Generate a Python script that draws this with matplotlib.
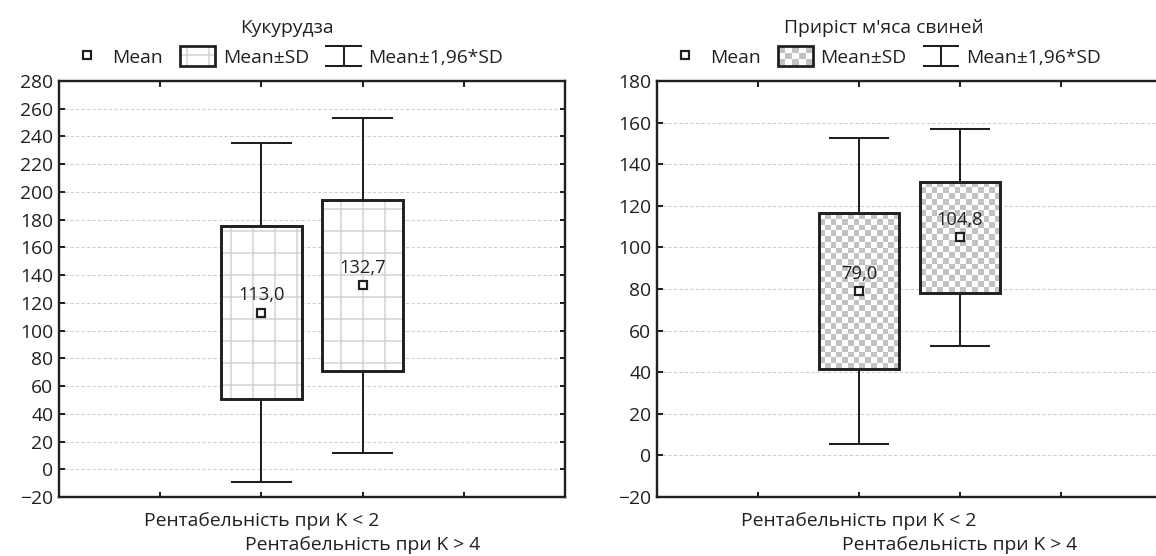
import matplotlib
matplotlib.use("Agg")
import matplotlib.pyplot as plt
import numpy as np
from matplotlib.patches import Rectangle
from matplotlib.lines import Line2D
from matplotlib.colors import ListedColormap
from matplotlib.legend_handler import HandlerBase
from matplotlib.transforms import blended_transform_factory

# values
groups = ['Рентабельність при K < 2', 'Рентабельність при K > 4']

corn_mean = [113.0, 132.7]
corn_sd_lo = [50.5, 71.0]
corn_sd_hi = [175.5, 194.4]
corn_ci_lo = [-9.5, 11.8]
corn_ci_hi = [235.5, 253.6]

pork_mean = [79.0, 104.8]
pork_sd_lo = [41.5, 78.1]
pork_sd_hi = [116.5, 131.5]
pork_ci_lo = [5.5, 52.5]
pork_ci_hi = [152.5, 157.1]

titles = ['Кукурудза', "Приріст м'яса свиней"]
legend_labels = ['Mean', 'Mean±SD', 'Mean±1,96*SD']

DPI = 132
FS = 10.5
ink = '#231f20'
grid_col = '#d2d2d2'
check_col = '#c2c2c2'

plt.rcParams['font.family'] = ['Open Sans', 'DejaVu Sans']
plt.rcParams['font.size'] = FS
plt.rcParams['text.color'] = ink
plt.rcParams['hatch.linewidth'] = 0.8
plt.rcParams['hatch.color'] = grid_col


class WhiskerHandler(HandlerBase):
    def create_artists(self, legend, orig_handle, xd, yd, w, h, fontsize, trans):
        x0, x1 = -xd, -xd + w
        xm = (x0 + x1) / 2
        y0, y1 = -yd - 1, -yd + h + 1
        arts = [Line2D([x0, x1], [y1, y1]), Line2D([xm, xm], [y0, y1]),
                Line2D([x0, x1], [y0, y0])]
        for a in arts:
            a.set_color(ink)
            a.set_linewidth(1.1)
            a.set_transform(trans)
        return arts


class BoxHandler(HandlerBase):
    def __init__(self, kind):
        super().__init__()
        self.kind = kind

    def create_artists(self, legend, orig_handle, xd, yd, w, h, fontsize, trans):
        x0, y0 = -xd, -yd - 1
        hh = h + 2
        arts = []
        if self.kind == 'grid':
            arts.append(Rectangle((x0, y0), w, hh, facecolor='white', edgecolor=grid_col,
                                  hatch='+', lw=0))
        else:
            nx, ny = 5, 3
            for i in range(nx):
                for j in range(ny):
                    if (i + j) % 2 == 0:
                        arts.append(Rectangle((x0 + i * w / nx, y0 + j * hh / ny), w / nx, hh / ny,
                                              facecolor=check_col, lw=0))
        arts.append(Rectangle((x0, y0), w, hh, fill=False, edgecolor=ink, lw=1.5))
        for a in arts:
            a.set_transform(trans)
        return arts


def draw_panel(ax, means, sd_lo, sd_hi, ci_lo, ci_hi, ylim, kind, title):
    ax.set_xlim(0, 5)
    ax.set_ylim(*ylim)
    pos = np.arange(2, 2 + len(means))
    fig = ax.figure
    fig.canvas.draw()
    for x, m, slo, shi, clo, chi in zip(pos, means, sd_lo, sd_hi, ci_lo, ci_hi):
        for ya, yb in [(shi, chi), (clo, slo)]:
            ax.plot([x, x], [ya, yb], color=ink, lw=1.1, zorder=2)
        for yc in [clo, chi]:
            ax.plot([x - 0.29, x + 0.29], [yc, yc], color=ink, lw=1.1, zorder=2)
        if kind == 'grid':
            ax.add_patch(Rectangle((x - 0.4, slo), 0.8, shi - slo, facecolor='white',
                                   edgecolor=grid_col, hatch='+', lw=0, zorder=3))
        else:
            p0 = ax.transData.transform((x - 0.4, slo))
            p1 = ax.transData.transform((x + 0.4, shi))
            nx = max(1, int(round((p1[0] - p0[0]) / 5.8)))
            ny = max(1, int(round((p1[1] - p0[1]) / 5.8)))
            ii, jj = np.indices((ny, nx))
            ax.imshow((ii + jj) % 2, extent=(x - 0.4, x + 0.4, slo, shi), origin='lower',
                      cmap=ListedColormap(['white', check_col]), interpolation='nearest',
                      aspect='auto', zorder=3)
        ax.add_patch(Rectangle((x - 0.4, slo), 0.8, shi - slo, fill=False,
                               edgecolor=ink, lw=1.6, zorder=4))
        ax.plot(x, m, marker='s', ms=4.6, mfc='white', mec=ink, mew=1.2, zorder=5)
        ax.annotate(('%.1f' % m).replace('.', ','), xy=(x, m), xytext=(0, 4.5),
                    textcoords='offset points', ha='center', va='bottom', fontsize=10, zorder=6)
    ax.set_xlim(0, 5)
    ax.set_ylim(*ylim)
    ax.set_yticks(np.arange(ylim[0], ylim[1] + 1, 20))
    ax.set_xticks([1, 2, 3, 4])
    ax.set_xticklabels([])
    # staggered group labels under the boxes
    tr = blended_transform_factory(ax.transData, ax.transAxes)
    for k, (x, lab) in enumerate(zip(pos, groups)):
        ax.annotate(lab, xy=(x, 0), xycoords=tr, xytext=(0, -13 - 13 * k),
                    textcoords='offset points', ha='center', va='center', fontsize=FS)
    ax.yaxis.grid(True, color='#cfcfcf', lw=0.6, ls=(0, (3, 2)))
    ax.set_axisbelow(True)
    ax.tick_params(direction='in', length=3, width=1.1, colors=ink, labelsize=FS,
                   top=True, right=True, pad=3)
    for s in ax.spines.values():
        s.set_linewidth(1.3)
        s.set_color(ink)
    ax.text(0.45, 1.128, title, transform=ax.transAxes, ha='center', va='center', fontsize=FS)

    handles = [Line2D([], [], ls='none', marker='s', ms=4.6, mfc='white', mec=ink, mew=1.2),
               Rectangle((0, 0), 1, 1), Line2D([], [])]
    hmap = {handles[1]: BoxHandler(kind), handles[2]: WhiskerHandler()}
    ax.legend(handles, legend_labels, handler_map=hmap, loc='center',
              bbox_to_anchor=(0.45, 1.057), ncol=3, frameon=False, fontsize=FS,
              handlelength=1.8, handleheight=0.9, handletextpad=0.4, columnspacing=0.9,
              borderaxespad=0)


fig = plt.figure(figsize=(1156 / DPI, 556 / DPI), dpi=DPI)
ax1 = fig.add_axes([59 / 1156, 1 - 497 / 556, 506 / 1156, 416 / 556])
ax2 = fig.add_axes([657 / 1156, 1 - 497 / 556, 505 / 1156, 416 / 556])

draw_panel(ax1, corn_mean, corn_sd_lo, corn_sd_hi, corn_ci_lo, corn_ci_hi, (-20, 280), 'grid', titles[0])
draw_panel(ax2, pork_mean, pork_sd_lo, pork_sd_hi, pork_ci_lo, pork_ci_hi, (-20, 180), 'check', titles[1])

fig.savefig('out.png', dpi=DPI)
